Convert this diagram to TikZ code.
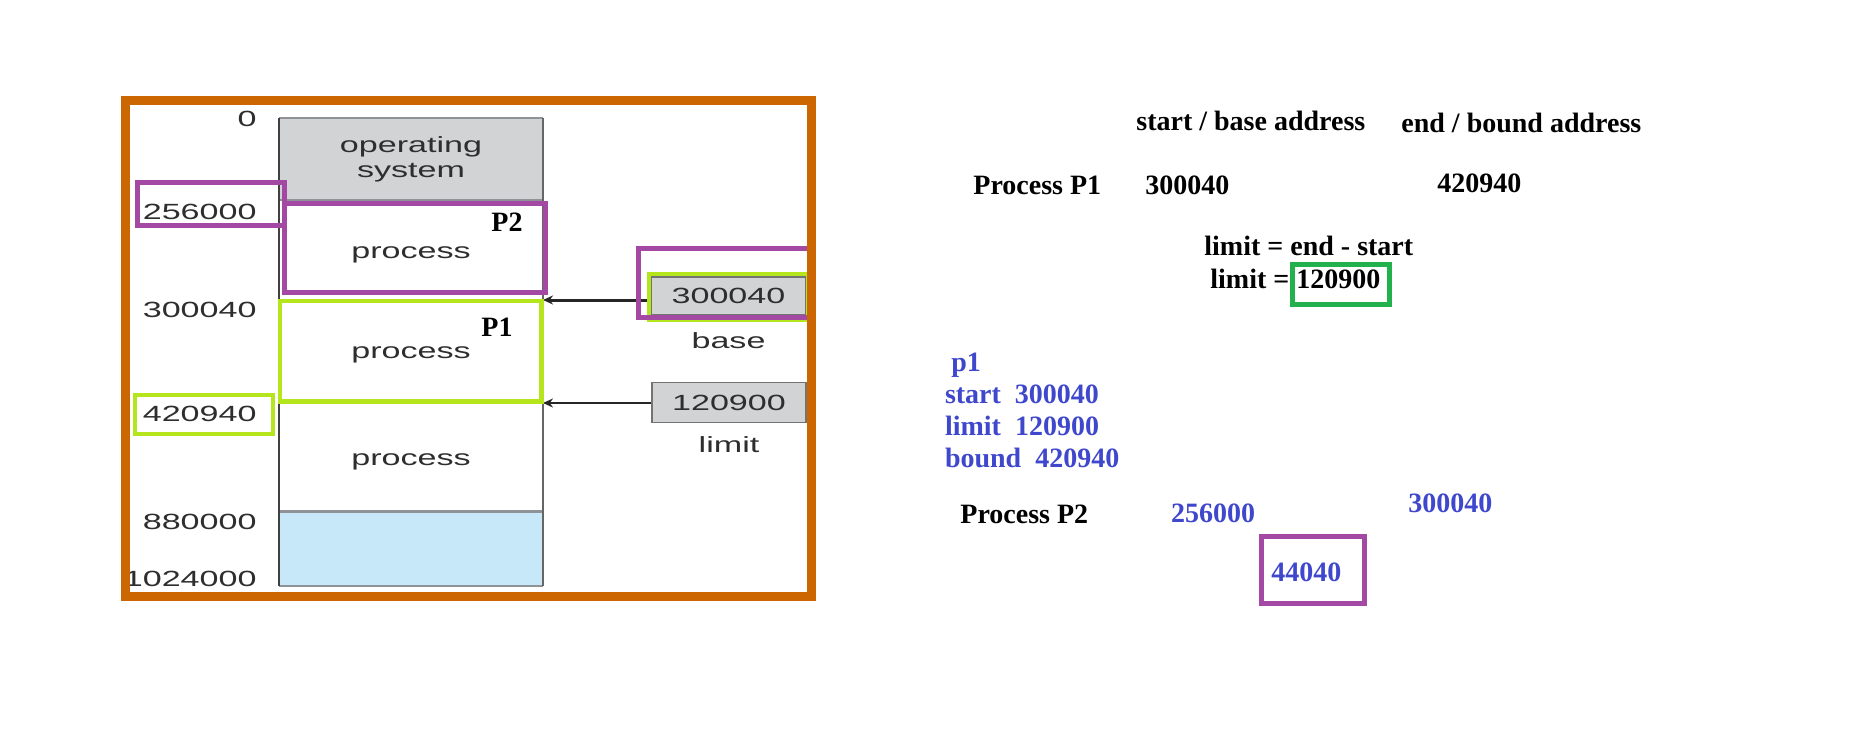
\documentclass[tikz,border=0pt]{standalone}
\usepackage{fontspec}
\setmainfont{Liberation Serif}
\newfontfamily\figsans[FakeStretch=1.55]{Liberation Sans}
\usetikzlibrary{arrows.meta}
\definecolor{frameorange}{HTML}{CC6600}
\definecolor{hlpurplec}{HTML}{A349A4}
\definecolor{hllimec}{HTML}{B5E61D}
\definecolor{hlgreenc}{HTML}{22B14C}
\definecolor{noteblue}{HTML}{3F48CC}
\definecolor{osgray}{HTML}{D2D3D5}
\definecolor{freeblue}{HTML}{C6E8F9}
\definecolor{labgray}{HTML}{2E2E2E}
\definecolor{edgegray}{HTML}{8F9296}
\tikzset{
  figlab/.style={font=\figsans\fontsize{11}{13}\selectfont, text=labgray, inner sep=0pt},
  region/.style={inner sep=0pt, outer sep=0pt, minimum width=132pt},
  regbox/.style={figlab, draw=black!55, fill=osgray, line width=0.8pt, minimum width=77pt, inner sep=0pt},
  note/.style={font=\fontsize{14}{16}\selectfont\bfseries, inner sep=0pt, anchor=base west},
  bluenote/.style={note, text=noteblue},
  hlP/.style={draw=hlpurplec, line width=2.5pt},
  hlL/.style={draw=hllimec, line width=2.2pt},
  hlG/.style={draw=hlgreenc, line width=2.5pt},
  arr/.style={-{Stealth[length=5pt,width=4.5pt]}, black!85},
}
\begin{document}
\begin{tikzpicture}[x=0.5pt,y=-0.5pt]
\useasboundingbox[fill=white] (0,0) rectangle (1850,743);

% memory column regions
\node[region, minimum height=41pt, fill=osgray] (os) at (411,159) {};
\node[region, minimum height=50pt, fill=white] (p2reg) at (411,250) {};
\node[region, minimum height=51.5pt, fill=white] (p1reg) at (411,351.5) {};
\node[region, minimum height=54pt, fill=white] (p3reg) at (411,457) {};
\node[region, minimum height=37.5pt, fill=freeblue] (freereg) at (411,548.5) {};

% column edges
\draw[edgegray, line width=1pt] (os.north west) -- (os.north east);
\draw[edgegray, line width=0.8pt] (os.south west) -- (os.south east);
\draw[edgegray, line width=1.5pt] (freereg.north west) -- (freereg.north east);
\draw[edgegray, line width=1.2pt] (freereg.south west) -- (freereg.south east);
\draw[black!75, line width=0.6pt] (os.north west) -- (freereg.south west);
\draw[black!60, line width=0.9pt] (os.north east) -- (freereg.south east);

% column texts
\node[figlab, anchor=base] (ostxt1) at (411,153) {operating};
\node[figlab, anchor=base] (ostxt2) at (411,177) {system};
\node[figlab, anchor=base] (proc2) at (411,258) {process};
\node[figlab, anchor=base] (proc1) at (411,358) {process};
\node[figlab, anchor=base] (proc3) at (411,465) {process};

% address labels
\node[figlab, anchor=east] (a0) at (257,118.5) {0};
\node[figlab, anchor=east] (a256) at (257,211.5) {256000};
\node[figlab, anchor=east] (a300) at (257,310) {300040};
\node[figlab, anchor=east] (a420) at (257,413.5) {420940};
\node[figlab, anchor=east] (a880) at (257,521.5) {880000};
\node[figlab, anchor=east] (a1024) at (257,578.5) {1024000};

% base and limit registers
\node[regbox, minimum height=19pt] (base) at (728.5,296) {300040};
\node[regbox, minimum height=20pt] (limit) at (729,402.5) {120900};
\node[figlab, anchor=base] (basetxt) at (728.5,348) {base};
\node[figlab, anchor=base] (limittxt) at (729,452) {limit};

\draw[arr, line width=1.5pt] (base.west |- p1reg.north) -- (p1reg.north east);
\draw[arr, line width=0.8pt] (limit.west |- p3reg.north) -- (p3reg.north east);

% P labels
\node[note, anchor=base] (p2lab) at (507,232) {P2};
\node[note, anchor=base] (p1lab) at (497,336.5) {P1};

% highlight boxes (left)
\draw[hlL] (280,301) rectangle (541.5,401.5);
\draw[hlP] (284,203.5) rectangle (545,292);
\draw[hlP] (137.5,182.5) rectangle (284.5,225.5);
\draw[hlL] (135,395) rectangle (273,434);
\draw[hlL] (649,274) rectangle (808,320);
\draw[hlP] (638.5,248.5) rectangle (810,317.5);

% orange frame
\draw[frameorange, line width=4.5pt] (125,101) rectangle (811.5,596.5);

% right-hand notes
\node[note] (hstart) at (1136,130.7) {start / base address};
\node[note] (hend) at (1401,132.7) {end / bound address};
\node[note] (pp1) at (973,194.3) {Process P1};
\node[note] (pp1s) at (1145,195) {300040};
\node[note] (pp1e) at (1437,192.7) {420940};
\node[note] (lim1) at (1204,256) {limit = end - start};
\node[note] (lim2) at (1210,288.3) {limit = 120900};
\draw[hlG] (1292.5,264.5) rectangle (1389.5,304.5);

\node[bluenote] (bp1) at (951,371.7) {p1};
\node[bluenote] (bstart) at (944.6,403.3) {start\ \ 300040};
\node[bluenote] (blimit) at (944.6,435.7) {limit\ \ 120900};
\node[bluenote] (bbound) at (944.6,467.3) {bound\ \ 420940};

\node[note] (pp2) at (960,523.3) {Process P2};
\node[bluenote] (pp2s) at (1170.6,522.7) {256000};
\node[bluenote] (pp2e) at (1408,512.3) {300040};
\node[bluenote] (pp2l) at (1271,581) {44040};
\draw[hlP] (1261.5,536.5) rectangle (1364.5,603.5);
\end{tikzpicture}
\end{document}
